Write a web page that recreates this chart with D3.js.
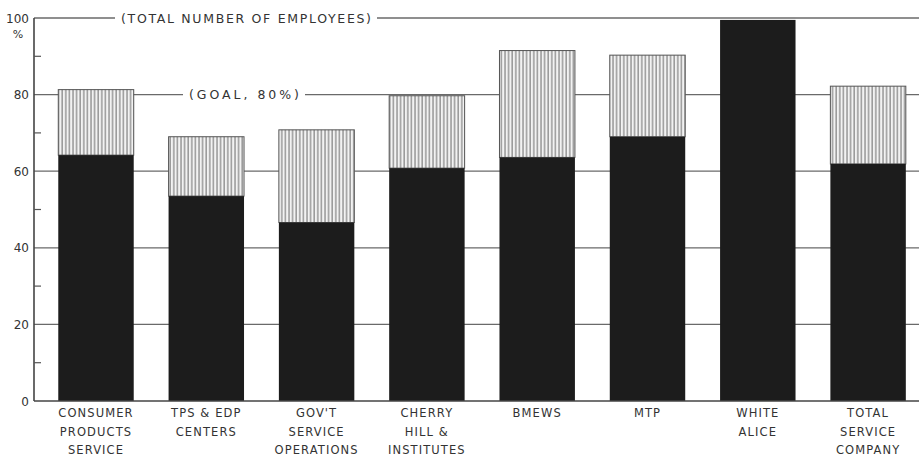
<!DOCTYPE html>
<html>
<head>
<meta charset="utf-8">
<script src="https://cdn.jsdelivr.net/npm/d3@7"></script>
<style>
  html, body { margin: 0; padding: 0; background: #ffffff; }
  svg { display: block; }
  text { font-family: "DejaVu Sans", sans-serif; fill: #333; }
</style>
</head>
<body>
<svg id="chart" width="919" height="457"></svg>
<script>
// ---- data ----
const categories = [
  ["CONSUMER", "PRODUCTS", "SERVICE"],
  ["TPS & EDP", "CENTERS"],
  ["GOV'T", "SERVICE", "OPERATIONS"],
  ["CHERRY", "HILL &", "INSTITUTES"],
  ["BMEWS"],
  ["MTP"],
  ["WHITE", "ALICE"],
  ["TOTAL", "SERVICE", "COMPANY"]
];
const darkValues  = [64.2, 53.5, 46.6, 60.8, 63.6, 69.0, 99.5, 61.9];
const totalValues = [81.3, 69.0, 70.8, 79.7, 91.5, 90.3, 99.5, 82.2];
const majorTicks = [0, 20, 40, 60, 80, 100];
const minorTicks = [10, 30, 50, 70, 90];
const refLines = [
  { value: 100, label: "(TOTAL NUMBER OF EMPLOYEES)" },
  { value: 80,  label: "(GOAL, 80%)" }
];

// ---- layout ----
const svg = d3.select("#chart");
const axisX = 34;
const rightX = 919;
const y = d3.scaleLinear().domain([0, 100]).range([401, 18]);
const x = d3.scaleBand()
  .domain(d3.range(categories.length))
  .range([40.85, 923.25])
  .paddingInner(0.316)
  .paddingOuter(0.158);

// hatch pattern
const defs = svg.append("defs");
const pat = defs.append("pattern")
  .attr("id", "hatch")
  .attr("patternUnits", "userSpaceOnUse")
  .attr("width", 3.6).attr("height", 10);
pat.append("rect").attr("width", 3.6).attr("height", 10).attr("fill", "#f2f2f2");
pat.append("line").attr("x1", 1).attr("x2", 1).attr("y1", 0).attr("y2", 10)
  .attr("stroke", "#8a8a8a").attr("stroke-width", 1.3);

// grid lines (20..100), baseline separately
const gridVals = majorTicks.filter(v => v > 0);
svg.append("g").selectAll("line").data(gridVals).join("line")
  .attr("x1", axisX).attr("x2", rightX)
  .attr("y1", d => y(d)).attr("y2", d => y(d))
  .attr("stroke", "#6a6a6a").attr("stroke-width", 1.3);

// white boxes behind reference line labels + labels
const refG = svg.append("g");
const refPos = { 100: { x: 115, w: 262 }, 80: { x: 183, w: 122 } };
refLines.forEach(r => {
  const p = refPos[r.value];
  refG.append("rect").attr("x", p.x).attr("y", y(r.value) - 7).attr("width", p.w).attr("height", 14).attr("fill", "#fff");
  refG.append("text")
    .attr("x", p.x + p.w / 2).attr("y", y(r.value) + 4.5)
    .attr("text-anchor", "middle")
    .attr("font-size", 12.5)
    .attr("textLength", p.w - 12)
    .attr("lengthAdjust", "spacing")
    .text(r.label);
});

// bars
const bars = svg.append("g");
bars.selectAll("rect.hatch").data(totalValues).join("rect")
  .attr("class", "hatch")
  .attr("x", (d, i) => x(i)).attr("width", x.bandwidth())
  .attr("y", d => y(d)).attr("height", (d, i) => y(darkValues[i]) - y(d))
  .attr("fill", "url(#hatch)")
  .attr("stroke", "#555").attr("stroke-width", 1);
bars.selectAll("rect.dark").data(darkValues).join("rect")
  .attr("class", "dark")
  .attr("x", (d, i) => x(i)).attr("width", x.bandwidth())
  .attr("y", d => y(d)).attr("height", d => y(0) - y(d))
  .attr("fill", "#1c1c1c");

// y axis line
svg.append("line").attr("x1", axisX).attr("x2", axisX)
  .attr("y1", y(100)).attr("y2", y(0))
  .attr("stroke", "#444").attr("stroke-width", 1.6);
// baseline
svg.append("line").attr("x1", axisX).attr("x2", rightX)
  .attr("y1", y(0)).attr("y2", y(0))
  .attr("stroke", "#444").attr("stroke-width", 1.6);
// minor ticks
svg.append("g").selectAll("line").data(minorTicks).join("line")
  .attr("x1", axisX).attr("x2", axisX + 7)
  .attr("y1", d => y(d)).attr("y2", d => y(d))
  .attr("stroke", "#555").attr("stroke-width", 1.2);
// tick labels
svg.append("g").selectAll("text").data(majorTicks).join("text")
  .attr("x", 29).attr("y", d => y(d) + 4.5)
  .attr("text-anchor", "end")
  .attr("font-size", 12)
  .text(d => d);
svg.append("text").attr("x", 18).attr("y", 38).attr("text-anchor", "middle")
  .attr("font-size", 11).text("%");

// category labels
const lab = svg.append("g");
categories.forEach((lines, i) => {
  const t = lab.append("text")
    .attr("x", x(i) + x.bandwidth() / 2)
    .attr("y", 417)
    .attr("text-anchor", "middle")
    .attr("font-size", 11.5)
    .attr("letter-spacing", 1.1);
  lines.forEach((ln, j) => {
    t.append("tspan").attr("x", x(i) + x.bandwidth() / 2).attr("dy", j === 0 ? 0 : 18.5).text(ln);
  });
});
</script>
</body>
</html>
